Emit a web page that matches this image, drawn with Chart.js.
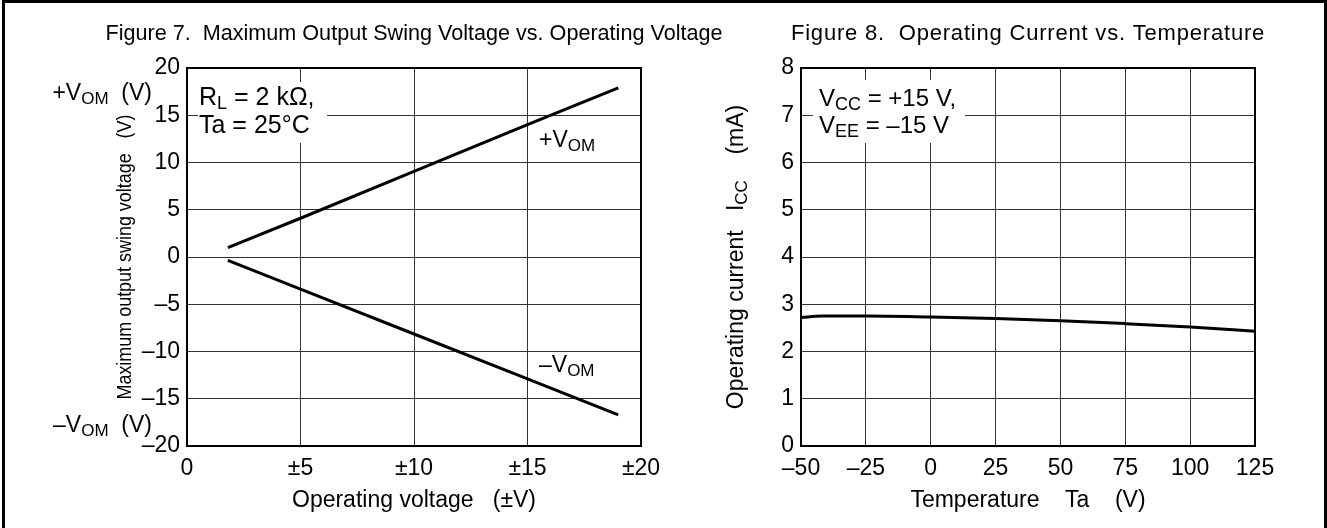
<!DOCTYPE html>
<html>
<head>
<meta charset="utf-8">
<script src="https://cdn.jsdelivr.net/npm/chart.js@4/dist/chart.umd.min.js"></script>
<style>
  html, body { margin: 0; padding: 0; background: #fff; }
  body { width: 1327px; height: 528px; position: relative; overflow: hidden; }
  #frame { position: absolute; left: 2px; top: 0; width: 1319px; height: 560px; border: 3px solid #000; }
  #wrap7 { position: absolute; left: 0; top: 0; width: 740px; height: 528px; }
  #wrap8 { position: absolute; left: 614px; top: 0; width: 713px; height: 528px; }
</style>
</head>
<body>
<div id="frame"></div>
<div id="wrap7"><canvas id="fig7"></canvas></div>
<div id="wrap8"><canvas id="fig8"></canvas></div>
<script>
const FONT = "'Liberation Sans', Arial, Helvetica, sans-serif";
const DASH = "\u2013";

// Figure 7: max output swing voltage vs operating voltage (Ta = 25C)
const opVoltage = [1.8, 5, 10, 15, 19];
const vomPlus = [1.0, 4.1, 9.05, 14.0, 17.9];
const vomMinus = [-0.35, -3.4, -8.15, -12.9, -16.7];

// Figure 8: operating current vs temperature
const tempC = [-50, -42, -25, 0, 25, 50, 75, 100, 125];
const iccMA = [2.72, 2.75, 2.75, 2.73, 2.70, 2.65, 2.59, 2.52, 2.43];

// axis ranges / tick steps
const fig7XTicks = [0, 20, 5];
const fig7YTicks = [-20, 20, 5];
const fig8XTicks = [-50, 125, 25];
const fig8YTicks = [0, 8, 1];

Chart.defaults.font.family = FONT;
Chart.defaults.color = "#000";

function pts(xs, ys) {
  return xs.map((x, i) => ({ x: x, y: ys[i] }));
}

function signed(v) {
  return v < 0 ? DASH + (-v) : String(v);
}

// draw a run of text pieces (for subscripts)
function drawParts(ctx, parts, x, y, align, spacing) {
  ctx.letterSpacing = (spacing || 0) + "px";
  let total = 0;
  parts.forEach((p) => {
    ctx.font = p.size + "px " + FONT;
    p.w = ctx.measureText(p.t).width;
    total += p.w;
  });
  let cx = align === "right" ? x - total : align === "center" ? x - total / 2 : x;
  ctx.textAlign = "left";
  ctx.textBaseline = "alphabetic";
  parts.forEach((p) => {
    ctx.font = p.size + "px " + FONT;
    ctx.fillText(p.t, cx, y + (p.dy || 0));
    cx += p.w;
  });
  ctx.letterSpacing = "0px";
}

function lineSet(data, smooth) {
  return {
    data: data,
    showLine: true,
    borderColor: "#000",
    borderWidth: 3,
    pointRadius: 0,
    fill: false,
    tension: 0,
    cubicInterpolationMode: smooth ? "monotone" : "default",
  };
}

function axis(range, fmt, isX) {
  return {
    type: "linear",
    min: range[0],
    max: range[1],
    afterFit: (s) => {
      if (isX) s.height = 82;
      else s.width = 187;
    },
    grid: { color: "#333", lineWidth: 1, drawTicks: false },
    border: { display: false },
    ticks: {
      stepSize: range[2],
      padding: isX ? 9 : 7,
      font: { size: 23 },
      color: "#000",
      callback: fmt,
    },
  };
}

function figureText(opts) {
  return {
    id: "figureText",
    beforeDatasetsDraw(chart) {
      const ctx = chart.ctx;
      ctx.save();
      ctx.fillStyle = "#fff";
      const b = opts.box;
      ctx.fillRect(b[0], b[1], b[2] - b[0], b[3] - b[1]);
      ctx.fillStyle = "#000";
      opts.note.forEach((line) => drawParts(ctx, line.parts, opts.noteX, line.y, "left"));
      ctx.restore();
    },
    afterDatasetsDraw(chart) {
      const ctx = chart.ctx;
      const a = chart.chartArea;
      const cx = (a.left + a.right) / 2;
      ctx.save();
      // plot frame
      ctx.strokeStyle = "#000";
      ctx.lineWidth = 2;
      ctx.strokeRect(a.left, a.top, a.right - a.left, a.bottom - a.top);
      ctx.fillStyle = "#000";
      // figure title
      drawParts(ctx, [{ t: opts.title, size: opts.titleSize }], cx, 40, "center", opts.titleSpacing);
      // x axis title
      drawParts(ctx, [{ t: opts.xTitle, size: 23 }], cx, 507, "center");
      // y axis title, rotated
      ctx.save();
      ctx.translate(opts.yTitleX, (a.top + a.bottom) / 2);
      ctx.rotate(-Math.PI / 2);
      if (opts.yTitleWidth) {
        ctx.font = opts.yTitle[0].size + "px " + FONT;
        ctx.textAlign = "center";
        ctx.textBaseline = "alphabetic";
        ctx.fillText(opts.yTitle[0].t, 0, 0, opts.yTitleWidth);
      } else {
        drawParts(ctx, opts.yTitle, 0, 0, "center");
      }
      ctx.restore();
      (opts.labels || []).forEach((l) => drawParts(ctx, l.parts, l.x, l.y, l.align));
      ctx.restore();
    },
  };
}

const vom = (sign) => [
  { t: sign + "V", size: 23 },
  { t: "OM", size: 17, dy: 4 },
];

new Chart(document.getElementById("fig7"), {
  type: "scatter",
  data: {
    datasets: [lineSet(pts(opVoltage, vomPlus)), lineSet(pts(opVoltage, vomMinus))],
  },
  options: {
    responsive: true,
    maintainAspectRatio: false,
    animation: false,
    layout: { padding: { top: 68, right: 99, bottom: 0, left: 0 } },
    plugins: { legend: { display: false }, tooltip: { enabled: false } },
    scales: {
      x: axis(fig7XTicks, (v) => (v === 0 ? "0" : "\u00b1" + v), true),
      y: axis(fig7YTicks, signed, false),
    },
  },
  plugins: [
    figureText({
      title: "Figure 7.  Maximum Output Swing Voltage vs. Operating Voltage",
      titleSize: 21.6,
      xTitle: "Operating voltage   (\u00b1V)",
      yTitle: [{ t: "Maximum output swing voltage   (V)", size: 21 }],
      yTitleWidth: 285,
      yTitleX: 131,
      box: [198, 82, 327, 143],
      noteX: 199,
      note: [
        { y: 105, parts: [{ t: "R", size: 25 }, { t: "L", size: 18, dy: 4 }, { t: " = 2 k\u03a9,", size: 25 }] },
        { y: 133, parts: [{ t: "Ta = 25\u00b0C", size: 25 }] },
      ],
      labels: [
        { x: 152, y: 100, align: "right", parts: vom("+").concat([{ t: "  (V)", size: 23 }]) },
        { x: 152, y: 432, align: "right", parts: vom(DASH).concat([{ t: "  (V)", size: 23 }]) },
        { x: 539, y: 147, align: "left", parts: vom("+") },
        { x: 539, y: 372, align: "left", parts: vom(DASH) },
      ],
    }),
  ],
});

new Chart(document.getElementById("fig8"), {
  type: "scatter",
  data: {
    datasets: [lineSet(pts(tempC, iccMA), true)],
  },
  options: {
    responsive: true,
    maintainAspectRatio: false,
    animation: false,
    layout: { padding: { top: 68, right: 72, bottom: 0, left: 0 } },
    plugins: { legend: { display: false }, tooltip: { enabled: false } },
    scales: {
      x: axis(fig8XTicks, signed, true),
      y: axis(fig8YTicks, signed, false),
    },
  },
  plugins: [
    figureText({
      title: "Figure 8.  Operating Current vs. Temperature",
      titleSize: 22,
      titleSpacing: 0.8,
      xTitle: "Temperature    Ta    (V)",
      yTitle: [
        { t: "Operating current   I", size: 23 },
        { t: "CC", size: 17, dy: 4 },
        { t: "    (mA)", size: 23 },
      ],
      yTitleX: 129,
      box: [199, 80, 351, 143],
      noteX: 205,
      note: [
        { y: 106, parts: [{ t: "V", size: 24 }, { t: "CC", size: 18, dy: 4 }, { t: " = +15 V,", size: 24 }] },
        { y: 133, parts: [{ t: "V", size: 24 }, { t: "EE", size: 18, dy: 4 }, { t: " = " + DASH + "15 V", size: 24 }] },
      ],
    }),
  ],
});
</script>
</body>
</html>
